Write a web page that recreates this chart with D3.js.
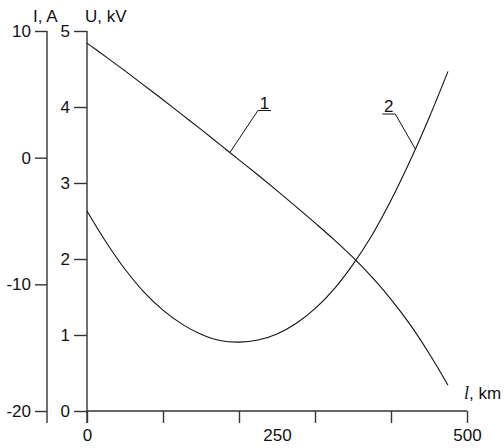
<!DOCTYPE html>
<html>
<head>
<meta charset="utf-8">
<script src="https://d3js.org/d3.v7.min.js"></script>
<style>
  body {margin: 0; background: white;}
  svg text {font-family: "Liberation Sans", Arial, sans-serif; font-size: 17px; fill: #111;}
  .ax line, .ax path {stroke: #333; stroke-width: 1.4;}
  .curve {fill: none; stroke: #111; stroke-width: 1.1;}
  .lead {stroke: #111; stroke-width: 1; fill: none;}
</style>
</head>
<body>
<svg id="chart" width="504" height="448"></svg>
<script>
// distance along line, km
var lengthKm = [0, 25, 50, 75, 100, 125, 150, 175, 200, 225, 250, 275, 300, 325, 350, 375, 400, 425, 450, 475];
// curve 1: voltage U, kV
var voltage = [4.84, 4.66, 4.475, 4.285, 4.095, 3.90, 3.705, 3.505, 3.305, 3.105, 2.90, 2.69, 2.475, 2.255, 2.02, 1.76, 1.47, 1.14, 0.76, 0.34];
// curve 2: current I, A
var current = [-4.21, -6.66, -8.81, -10.61, -12.04, -13.14, -13.94, -14.44, -14.56, -14.4, -13.92, -13.09, -11.92, -10.37, -8.42, -6.12, -3.37, -0.27, 3.13, 6.81];

var xMajor = [0, 100, 200, 300, 400, 500];
var xMinor = [50, 150, 250, 350, 450];
var xLabels = [0, 250, 500];
var uMajor = [0, 1, 2, 3, 4, 5];
var uMinor = [0.5, 1.5, 2.5, 3.5, 4.5];
var iMajor = [-20, -10, 0, 10];
var iMinor = [-15, -5, 5];

var svg = d3.select('#chart');

var x  = d3.scaleLinear().domain([0, 500]).range([87, 467]);
var yU = d3.scaleLinear().domain([0, 5]).range([411, 31]);
var yI = d3.scaleLinear().domain([-20, 10]).range([411, 31]);

var plain = function(d) { return String(d); };

// I axis
var gI = svg.append('g').attr('class', 'ax').attr('transform', 'translate(47,0)');
gI.call(d3.axisLeft(yI).tickValues(iMinor).tickSize(6).tickFormat(''));
gI.call(d3.axisLeft(yI).tickValues(iMajor).tickSize(12).tickPadding(4).tickFormat(plain));
gI.selectAll('.domain').remove();
gI.append('line').attr('x1', 0).attr('x2', 0).attr('y1', yI(10)).attr('y2', 423);

// U axis
var gU = svg.append('g').attr('class', 'ax').attr('transform', 'translate(87,0)');
gU.call(d3.axisLeft(yU).tickValues(uMinor).tickSize(7).tickFormat(''));
gU.call(d3.axisLeft(yU).tickValues(uMajor).tickSize(13).tickPadding(4).tickFormat(plain));
gU.selectAll('.domain').remove();
gU.append('line').attr('x1', 0).attr('x2', 0).attr('y1', yU(5)).attr('y2', 423);

// length axis
var gX = svg.append('g').attr('class', 'ax').attr('transform', 'translate(0,411)');
gX.call(d3.axisBottom(x).tickValues(xMinor).tickSize(6).tickFormat(''));
gX.call(d3.axisBottom(x).tickValues(xMajor).tickSize(12).tickFormat(''));
gX.selectAll('.domain').remove();
gX.append('line').attr('x1', x(0)).attr('x2', x(500)).attr('y1', 0).attr('y2', 0);
var gXl = svg.append('g').attr('transform', 'translate(0,411)');
gXl.call(d3.axisBottom(x).tickValues(xLabels).tickSize(0).tickPadding(18).tickFormat(plain));
gXl.selectAll('.domain').remove();

svg.selectAll('text').attr('font-family', null).attr('font-size', null).attr('fill', '#111');

// axis titles
svg.append('text').attr('x', 33).attr('y', 22).text('I, A');
svg.append('text').attr('x', 85).attr('y', 22).text('U, kV');
var lt = svg.append('text').attr('x', 464).attr('y', 399);
lt.append('tspan').style('font-family', '"Liberation Serif", serif').style('font-style', 'italic').style('font-size', '18px').text('l');
lt.append('tspan').text(', km');

// curves
var pts = lengthKm.map(function(l, i) { return {l: l, u: voltage[i], c: current[i]}; });

svg.append('path').attr('class', 'curve')
  .attr('d', d3.line().x(function(d) { return x(d.l); }).y(function(d) { return yU(d.u); }).curve(d3.curveCatmullRom)(pts));
svg.append('path').attr('class', 'curve')
  .attr('d', d3.line().x(function(d) { return x(d.l); }).y(function(d) { return yI(d.c); }).curve(d3.curveCatmullRom)(pts));

// value on a series at a given length (linear between points)
function valueAt(arr, l) {
  return d3.scaleLinear().domain(lengthKm).range(arr)(l);
}

function leader(name, px, py, dx, dy, under) {
  var ex = px + dx, ey = py + dy;
  svg.append('path').attr('class', 'lead')
    .attr('d', 'M' + px + ',' + py + 'L' + ex + ',' + ey + 'L' + (ex + under) + ',' + ey);
  svg.append('text')
    .attr('x', ex + under / 2).attr('y', ey - 2)
    .attr('text-anchor', 'middle')
    .text(name);
}

leader('1', x(188), yU(valueAt(voltage, 188)), 28, -42, 13);
leader('2', x(432), yI(valueAt(current, 432)), -20, -35, -13);
</script>
</body>
</html>
